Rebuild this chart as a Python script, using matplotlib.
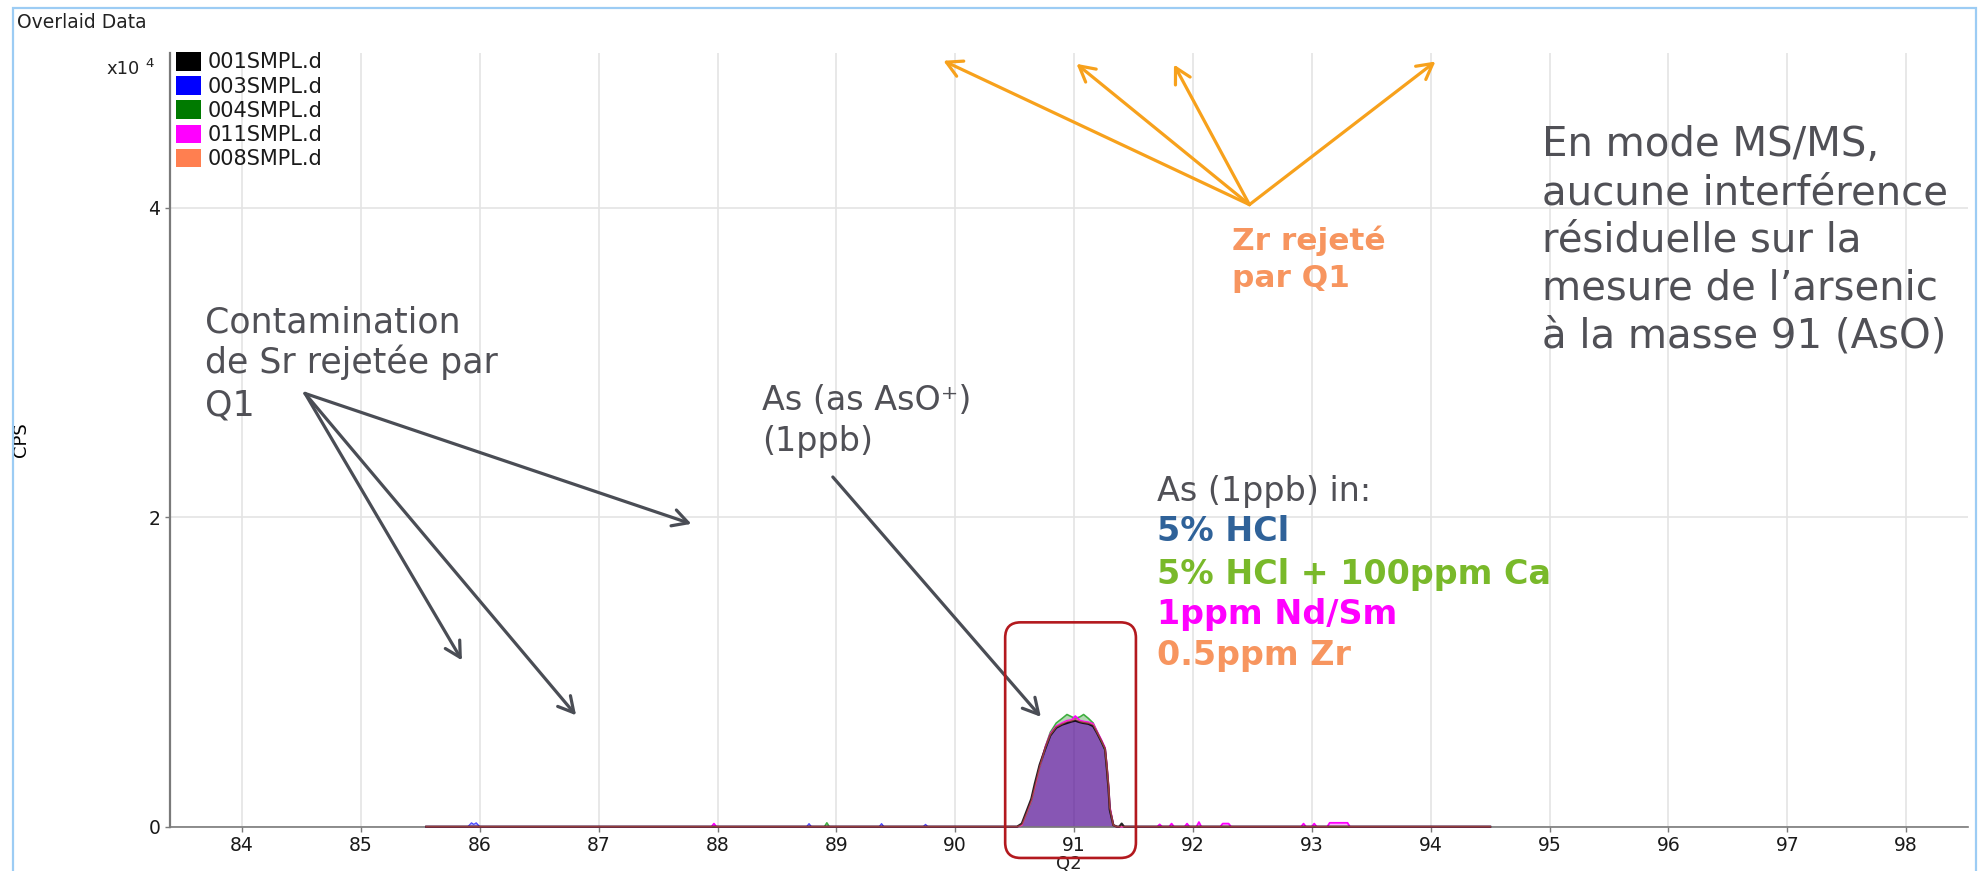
import numpy as np
import matplotlib
matplotlib.use("Agg")
import matplotlib.pyplot as plt
from matplotlib.patches import Patch, Rectangle, FancyBboxPatch

# ---------------- data ----------------
sample_names = ["001SMPL.d", "003SMPL.d", "004SMPL.d", "011SMPL.d", "008SMPL.d"]
sample_colors = ["#000000", "#0000FF", "#007A00", "#FF00FF", "#FF7F50"]

scan_start = 85.55
scan_end = 94.50

# As (AsO+) peak at Q2 = 91 (CPS)
peak_q2 = [90.52, 90.56, 90.60, 90.64, 90.67, 90.71, 90.76, 90.80, 90.85, 90.90,
           90.94, 90.98, 91.01, 91.05, 91.08, 91.12, 91.16, 91.19, 91.23, 91.26,
           91.275, 91.29, 91.30, 91.33, 91.36]
peak_001 = [0, 200, 1000, 1800, 2800, 4000, 5100, 5900, 6400, 6600, 6700, 6800, 6850,
            6750, 6700, 6650, 6500, 6100, 5500, 5000, 3800, 2400, 1100, 100, 0]
peak_003 = [0, 100, 800, 1600, 2500, 3800, 5000, 5900, 6400, 6650, 6800, 6850, 6900,
            6800, 6750, 6700, 6600, 6150, 5550, 5050, 3900, 2500, 1200, 100, 0]
peak_004 = [0, 100, 800, 1600, 2500, 3800, 5200, 6100, 6700, 7000, 7250, 7100, 7000,
            7100, 7250, 7000, 6700, 6200, 5500, 5000, 3900, 2500, 1200, 100, 0]
peak_011 = [0, 100, 900, 1700, 2600, 3900, 5200, 6000, 6500, 6700, 6850, 6900, 7150,
            6850, 6800, 6750, 6650, 6200, 5600, 5100, 4000, 2600, 1300, 100, 0]
peak_008 = [0, 100, 850, 1650, 2550, 3850, 5150, 5950, 6450, 6650, 6800, 6850, 6950,
            6800, 6750, 6700, 6600, 6150, 5550, 5050, 3950, 2550, 1250, 100, 0]

# small residual signals along the baseline (Q2, CPS)
blips_001_q2 = [91.38, 91.40, 91.42]
blips_001_cps = [0, 200, 0]
blips_003_q2 = [85.90, 85.93, 85.95, 85.97, 86.00, 88.75, 88.77, 88.79, 89.36, 89.38, 89.40, 89.73, 89.75, 89.77]
blips_003_cps = [0, 250, 150, 250, 0, 0, 200, 0, 0, 200, 0, 0, 150, 0]
blips_004_q2 = [88.90, 88.92, 88.94]
blips_004_cps = [0, 250, 0]
blips_011_q2 = [87.95, 87.97, 87.99, 91.70, 91.72, 91.74, 91.80, 91.82, 91.84, 91.93, 91.95, 91.97,
                92.03, 92.05, 92.07, 92.23, 92.25, 92.30, 92.32, 92.91, 92.93, 92.95, 93.00,
                93.02, 93.04, 93.13, 93.15, 93.22, 93.30, 93.32]
blips_011_cps = [0, 200, 0, 0, 150, 0, 0, 200, 0, 0, 200, 0,
                 0, 300, 0, 0, 200, 200, 0, 0, 200, 0, 0,
                 200, 0, 0, 250, 250, 250, 0]
blips_008_q2 = []
blips_008_cps = []

x_ticks = [84, 85, 86, 87, 88, 89, 90, 91, 92, 93, 94, 95, 96, 97, 98]
y_ticks = [0, 20000, 40000]
y_tick_labels = ["0", "2", "4"]


def series(peak_y, bq, bc):
    x = np.concatenate([[scan_start], bq, peak_q2, [scan_end]])
    y = np.concatenate([[0], bc, peak_y, [0]])
    o = np.argsort(x, kind="stable")
    return x[o], y[o]


s001 = series(peak_001, blips_001_q2, blips_001_cps)
s003 = series(peak_003, blips_003_q2, blips_003_cps)
s004 = series(peak_004, blips_004_q2, blips_004_cps)
s011 = series(peak_011, blips_011_q2, blips_011_cps)
s008 = series(peak_008, blips_008_q2, blips_008_cps)

# ---------------- figure ----------------
W, H = 1981, 871
fig = plt.figure(figsize=(W / 100, H / 100), dpi=100)
fig.patch.set_facecolor("white")

def fx(px):
    return px / W

def fy(py):
    return 1 - py / H

ax = fig.add_axes([fx(170), fy(826.7), fx(1968) - fx(170), fy(53) - fy(826.7)])
ax.set_xlim(83.394, 98.52)
ax.set_ylim(0, 50000)

ax.set_xticks(x_ticks)
ax.set_yticks(y_ticks)
ax.set_yticklabels(y_tick_labels)
ax.grid(True, color="#e4e4e4", lw=1.2)
ax.set_axisbelow(True)
for sp in ["top", "right"]:
    ax.spines[sp].set_visible(False)
ax.spines["left"].set_color("#7a7a7a")
ax.spines["left"].set_linewidth(1.6)
ax.spines["bottom"].set_color("#7a7a7a")
ax.spines["bottom"].set_linewidth(1.2)
ax.tick_params(axis="both", colors="#7a7a7a", labelcolor="#1a1a1a", labelsize=13.5,
               length=3.5, width=1, pad=3.5)

# fills (overlay gives the purple look)
ax.fill_between(s004[0], s004[1], color=sample_colors[2], alpha=0.30, lw=0, zorder=2)
ax.fill_between(s003[0], s003[1], color=sample_colors[1], alpha=0.30, lw=0, zorder=2)
ax.fill_between(s011[0], s011[1], color=sample_colors[3], alpha=0.30, lw=0, zorder=2)
ax.fill_between(s001[0], s001[1], color=sample_colors[0], alpha=0.17, lw=0, zorder=2)

ax.plot(*s004, color="#3fae3f", lw=1.2, zorder=3, clip_on=False)
ax.plot(*s003, color=sample_colors[1], lw=0.9, alpha=0.7, zorder=3, clip_on=False)
ax.plot(*s011, color=sample_colors[3], lw=1.3, zorder=3, clip_on=False)
ax.plot(*s001, color=sample_colors[0], lw=1.6, alpha=0.85, zorder=3, clip_on=False)
ax.plot(*s008, color=sample_colors[4], lw=1.2, alpha=0.5, zorder=3, clip_on=False)

# axis labels
ax.set_ylabel("CPS", fontsize=13, color="black")
ax.yaxis.set_label_coords(-0.078, 0.5)
ax.set_xlabel("Q2", fontsize=13, color="#222222", va="top")
ax.xaxis.set_label_coords(0.5, -0.037)

# legend
handles = [Patch(facecolor=c, edgecolor="none") for c in sample_colors]
leg = fig.legend(handles, sample_names, loc="upper left",
                 bbox_to_anchor=(fx(176), fy(52)), frameon=False, fontsize=15,
                 handlelength=1.2, handleheight=1.0, handletextpad=0.3,
                 labelspacing=0.18, borderpad=0, borderaxespad=0)
for t in leg.get_texts():
    t.set_color("#1a1a1a")

# texts around the axes
fig.text(fx(17), fy(27.5), "Overlaid Data", fontsize=13.5, va="baseline", color="#222222")
fig.text(fx(106), fy(74), "x10", fontsize=13, va="baseline", color="#222222")
fig.text(fx(145), fy(67), "4", fontsize=9.5, va="baseline", color="#222222")

# frame
fig.patches.append(Rectangle((fx(13), -0.05), fx(1976) - fx(13), fy(8) + 0.05,
                             transform=fig.transFigure, fill=False,
                             edgecolor="#9cccf4", lw=1.6, zorder=0))

# ---------------- annotations ----------------
gray_txt = "#505056"
gray_arr = "#4a4d55"
orange_arr = "#f7a11c"

def lines(x, ys, texts, size, color, weight="normal"):
    for y, t in zip(ys, texts):
        ax.text(x, y, t, fontsize=size, color=color, fontweight=weight,
                va="baseline", ha="left", zorder=6, clip_on=False)

lines(83.69, [31940, 29350, 26560],
      ["Contamination", "de Sr rejetée par", "Q1"], 25, gray_txt)
lines(94.935, [43330, 40220, 37200, 34100, 31000],
      ["En mode MS/MS,", "aucune interférence", "résiduelle sur la",
       "mesure de l’arsenic", "à la masse 91 (AsO)"], 29, gray_txt)
lines(88.372, [26930, 24300], ["As (as AsO⁺)", "(1ppb)"], 24, gray_txt)
lines(91.696, [21080], ["As (1ppb) in:"], 24, gray_txt)
lines(91.696, [18450], ["5% HCl"], 24, "#2f6299", "bold")
lines(91.696, [15700], ["5% HCl + 100ppm Ca"], 24, "#79b92a", "bold")
lines(91.696, [13080], ["1ppm Nd/Sm"], 24, "#ff00ff", "bold")
lines(91.696, [10430], ["0.5ppm Zr"], 24, "#f7955f", "bold")
lines(92.33, [37300, 34900], ["Zr rejeté", "par Q1"], 22.5, "#f7955f", "bold")

arrow_kw = dict(shrinkA=0, shrinkB=0, mutation_scale=20)

def arrow(x0, y0, x1, y1, color):
    ax.annotate("", xy=(x1, y1), xytext=(x0, y0), annotation_clip=False, zorder=7,
                arrowprops=dict(arrowstyle="->,head_length=0.55,head_width=0.3",
                                color=color, lw=2.3, **arrow_kw))

for (x1, y1) in [(89.90, 49500), (91.02, 49300), (91.84, 49250), (94.04, 49450)]:
    arrow(92.475, 40200, x1, y1, orange_arr)
for (x1, y1) in [(85.85, 10750), (86.81, 7200), (87.78, 19570)]:
    arrow(84.53, 28000, x1, y1, gray_arr)
arrow(88.97, 22600, 90.72, 7100, gray_arr)

# red rounded box around the As peak
fig.canvas.draw()
px_per_x = ax.bbox.width / (ax.get_xlim()[1] - ax.get_xlim()[0])
px_per_y = ax.bbox.height / (ax.get_ylim()[1] - ax.get_ylim()[0])
box = FancyBboxPatch((90.42, -2020), 91.52 - 90.42, 13206 + 2020,
                     boxstyle="round,pad=0,rounding_size=0.13",
                     mutation_aspect=px_per_x / px_per_y,
                     facecolor="none", edgecolor="#b3191e", lw=1.9,
                     clip_on=False, zorder=8, transform=ax.transData)
ax.add_patch(box)

fig.savefig("out.png", dpi=100, facecolor="white")
